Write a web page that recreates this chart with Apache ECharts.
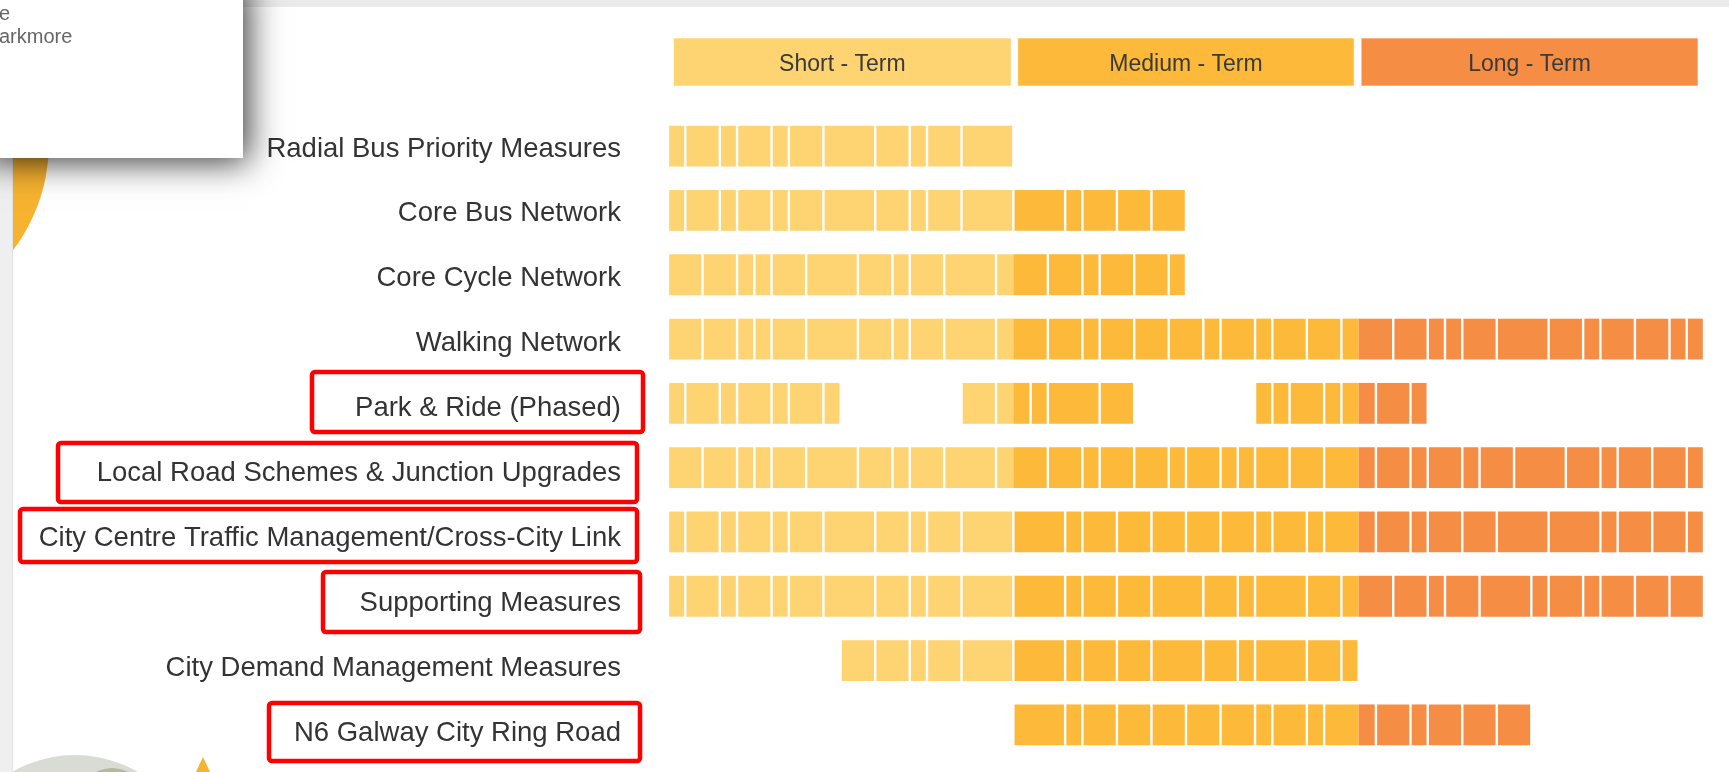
<!DOCTYPE html>
<html><head><meta charset="utf-8">
<script src="https://cdn.jsdelivr.net/npm/echarts@6/dist/echarts.min.js"></script>
<style>html,body{margin:0;padding:0;background:#fff;overflow:hidden}#c{width:1729px;height:772px;}</style>
</head><body><div id="c"></div>
<script>
// ---- data ----
const categories = [
  'Radial Bus Priority Measures',
  'Core Bus Network',
  'Core Cycle Network',
  'Walking Network',
  'Park & Ride (Phased)',
  'Local Road Schemes & Junction Upgrades',
  'City Centre Traffic Management/Cross-City Link',
  'Supporting Measures',
  'City Demand Management Measures',
  'N6 Galway City Ring Road'
];
const phaseNames = ['Short - Term', 'Medium - Term', 'Long - Term'];
const phaseStarts = [0, 20, 40];
const phaseEnds = [20, 40, 60];

// each row: list of runs [start unit, [block widths in units]]
const radialBus = [[0, [1,2,1,2,1,2,3,2,1,2,3]]];
const coreBus = [[0, [1,2,1,2,1,2,3,2,1,2,3, 3,1,2,2,2]]];
const coreCycle = [[0, [2,2,1,1,2,3,2,1,2,3, 3,2,1,2,2,1]]];
const walking = [[0, [2,2,1,1,2,3,2,1,2,3, 3,2,1,2,2,2,1,2,1,2,2, 3,2,1,1,2,3,2,1,2,2,1,1]]];
const parkRide = [[0, [1,2,1,2,1,2,1]], [17, [2,2,1,3,2]], [34, [1,1,2,1,2,2,1]]];
const localRoad = [[0, [2,2,1,1,2,3,2,1,2,3, 3,2,1,2,2,1,2,1,1,2,2, 3,2,1,2,1,2,3,2,1,2,2,1]]];
const cityCentre = [[0, [1,2,1,2,1,2,3,2,1,2,3, 3,1,2,2,2,2,2,1,2,1, 3,2,1,2,2,3,3,1,2,2,1]]];
const supporting = [[0, [1,2,1,2,1,2,3,2,1,2,3, 3,1,2,2,3,2,1,3,2, 3,2,1,2,3,1,2,1,2,2,2]]];
const demand = [[10, [2,2,1,2,3, 3,1,2,2,3,2,1,3,2,1]]];
const ringRoad = [[20, [3,1,2,2,2,2,2,1,2,1, 3,2,1,2,2,2]]];

// ---- styles ----
const phaseColors = ['#FED372', '#FDB93A', '#F58D45'];
const headerInsetL = [5.5, 4.5, 2.5];
const headerInsetR = [2.2, 4.5, 6];
const rowRuns = [radialBus, coreBus, coreCycle, walking, parkRide, localRoad, cityCentre, supporting, demand, ringRoad];

const blockData = [];
rowRuns.forEach((runs, r) => runs.forEach(([start, widths]) => {
  let s = start;
  widths.forEach(w => { blockData.push([r, s, s + w]); s += w; });
}));
const headerData = phaseNames.map((n, i) => [0, phaseStarts[i], phaseEnds[i], n, i]);

const chart = echarts.init(document.getElementById('c'), null, {renderer: 'canvas'});
const GAP = 1.2;

function renderBlock(params, api) {
  const row = api.value(0), s = api.value(1), e = api.value(2);
  const yc = api.coord([s, row])[1];
  const h = api.size([0, 1])[1] * 0.635;
  const children = [];
  for (let k = 0; k < 3; k++) {
    const a = Math.max(s, phaseStarts[k]), b = Math.min(e, phaseEnds[k]);
    if (b <= a) continue;
    let x0 = api.coord([a, row])[0], x1 = api.coord([b, row])[0];
    if (a === s) x0 += GAP;
    if (b === e) x1 -= GAP;
    children.push({type: 'rect', shape: {x: x0, y: yc - h / 2, width: x1 - x0, height: h},
      style: {fill: phaseColors[k]}});
  }
  return {type: 'group', children};
}

function renderHeader(params, api) {
  const s = api.value(1), e = api.value(2);
  const p0 = api.coord([s, 0]), p1 = api.coord([e, 0]);
  const h = api.size([0, 1])[1];
  const idx = api.value(4);
  const x0 = p0[0] + headerInsetL[idx], x1 = p1[0] - headerInsetR[idx];
  return {type: 'rect', shape: {x: x0, y: p0[1] - h / 2, width: x1 - x0, height: h},
    style: {fill: phaseColors[idx], stroke: 'rgba(255,255,255,0.6)', lineWidth: 1},
    textContent: {style: {text: phaseNames[idx], fill: '#3a3a3a', fontSize: 23, fontFamily: 'Liberation Sans'}},
    textConfig: {position: 'inside', offset: [0, 3]}};
}

const hl = [
  [312, 372, 643, 432],
  [58, 443, 637, 502],
  [20, 509, 637, 562],
  [323, 572, 640, 632],
  [269, 703, 640, 761]
];

const graphics = [
  // decorative yellow disc on the left
  {type: 'circle', shape: {cx: -129, cy: 143, r: 178}, style: {fill: '#F7B330'}, z: 1},
  // left page strip
  {type: 'rect', shape: {x: 0, y: 0, width: 13, height: 772}, style: {fill: '#efefef'}, z: 2},
  {type: 'rect', shape: {x: 12, y: 0, width: 1, height: 772}, style: {fill: '#e2e2e2'}, z: 2},
  // top page strip
  {type: 'rect', shape: {x: 0, y: 0, width: 1729, height: 7}, style: {fill: '#ebebeb'}, z: 2},
  // bottom-left photo dome + triangle
  {type: 'circle', shape: {cx: 75, cy: 880, r: 125}, style: {fill: '#d9dbd5'}, z: 1},
  {type: 'circle', shape: {cx: 112, cy: 802, r: 34}, style: {fill: '#b4b99a'}, z: 1},
  {type: 'polygon', shape: {points: [[196, 772], [203, 757], [210, 772]]}, style: {fill: '#F7B330'}, z: 1},
  // popup card
  {type: 'rect', shape: {x: -20, y: -20, width: 263, height: 178},
    style: {fill: '#fff', shadowBlur: 32, shadowColor: 'rgba(0,0,0,0.78)', shadowOffsetX: 5, shadowOffsetY: 4}, z: 5},
  {type: 'text', x: -1, y: 14, style: {text: 'e', fontSize: 20, fill: '#666', fontFamily: 'Liberation Sans', verticalAlign: 'middle'}, z: 6},
  {type: 'text', x: -1, y: 37, style: {text: 'arkmore', fontSize: 20, fill: '#666', fontFamily: 'Liberation Sans', verticalAlign: 'middle'}, z: 6}
];
hl.forEach(b => graphics.push({type: 'rect', shape: {x: b[0], y: b[1], width: b[2] - b[0], height: b[3] - b[1], r: 3},
  style: {fill: 'none', stroke: '#ff0000', lineWidth: 4.5}, z: 10}));

chart.setOption({
  animation: false,
  backgroundColor: '#fff',
  grid: [
    {left: 668, right: 25, top: 38, height: 48, outerBoundsMode: 'none'},
    {left: 668, right: 25, top: 114, bottom: 15, outerBoundsMode: 'none'},
    {left: 668, right: 25, top: 116.5, bottom: 6.5, outerBoundsMode: 'none'}
  ],
  xAxis: [
    {gridIndex: 0, type: 'value', min: 0, max: 60, show: false},
    {gridIndex: 1, type: 'value', min: 0, max: 60, show: false},
    {gridIndex: 2, type: 'value', min: 0, max: 60, show: false}
  ],
  yAxis: [
    {gridIndex: 0, type: 'category', data: ['phase'], show: false},
    {gridIndex: 1, type: 'category', data: categories, inverse: true,
      axisLine: {show: false}, axisTick: {show: false}, splitLine: {show: false}, axisLabel: {show: false}},
    {gridIndex: 2, type: 'category', data: categories, inverse: true,
      axisLine: {show: false}, axisTick: {show: false}, splitLine: {show: false},
      axisLabel: {fontSize: 27.5, color: '#333', margin: 47, fontFamily: 'Liberation Sans'}}
  ],
  series: [
    {type: 'custom', xAxisIndex: 0, yAxisIndex: 0, data: headerData, renderItem: renderHeader,
      encode: {x: [1, 2], y: 0}},
    {type: 'custom', xAxisIndex: 1, yAxisIndex: 1, data: blockData, renderItem: renderBlock,
      encode: {x: [1, 2], y: 0}}
  ],
  graphic: {elements: graphics}
});
</script></body></html>
